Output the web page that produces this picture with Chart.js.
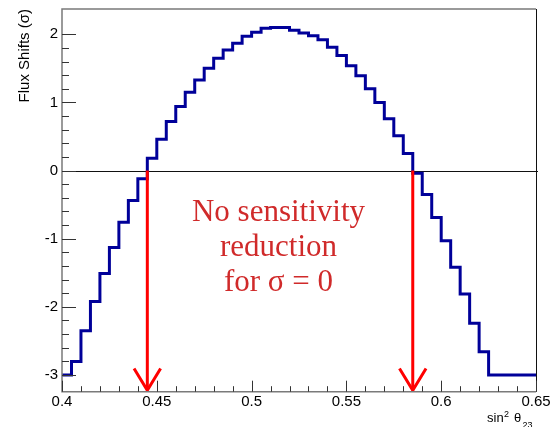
<!DOCTYPE html>
<html>
<head>
<meta charset="utf-8">
<script src="https://cdn.jsdelivr.net/npm/chart.js@4.4.1/dist/chart.umd.min.js"></script>
<style>
  html, body { margin: 0; padding: 0; background: #fff; }
  canvas { display: block; }
</style>
</head>
<body>
<canvas id="fluxChart" width="552" height="427"></canvas>
<script>
// histogram: 50 bins of width 0.005 starting at sin^2 theta23 = 0.4
const binStart = 0.4;
const binWidth = 0.005;
const fluxShift = [
  -3.00, -2.80, -2.35, -1.92, -1.51, -1.13, -0.76, -0.44, -0.12, 0.18,
   0.46,  0.72,  0.94,  1.15,  1.33,  1.50,  1.65,  1.77,  1.87, 1.97,
   2.03,  2.09,  2.10,  2.10,  2.06,  2.02,  1.98,  1.92,  1.81, 1.69,
   1.54,  1.39,  1.20,  1.00,  0.76,  0.51,  0.25, -0.04, -0.35, -0.69,
  -1.03, -1.42, -1.81, -2.24, -2.66, -3.00, -3.00, -3.00, -3.00, -3.00
];

// red arrows where the shift crosses zero
const arrowX = [0.445, 0.585];
const arrowTop = 0;
const arrowTip = -3.225;

const noteLines = ['No sensitivity', 'reduction', 'for σ = 0'];

// axis ranges and tick labels
const xRange = [0.4, 0.65];
const yRange = [-3.245, 2.371];
const xMajor = [0.4, 0.45, 0.5, 0.55, 0.6, 0.65];
const yMajor = [-3, -2, -1, 0, 1, 2];

const near = (v, step) => Math.abs(v / step - Math.round(v / step)) < 1e-6;

// step line points: lower edge of every bin, plus the last upper edge
const histPoints = fluxShift.map((v, i) => ({ x: binStart + i * binWidth, y: v }));
histPoints.push({ x: binStart + fluxShift.length * binWidth, y: fluxShift[fluxShift.length - 1] });

const arrowSets = [];
arrowX.forEach(ax => {
  arrowSets.push({
    data: [{ x: ax, y: arrowTop }, { x: ax, y: arrowTip }],
    borderColor: '#ff0000', borderWidth: 3, pointRadius: 0, order: 0
  });
  arrowSets.push({
    data: [{ x: ax - 0.007, y: arrowTip + 0.32 }, { x: ax, y: arrowTip }, { x: ax + 0.007, y: arrowTip + 0.32 }],
    borderColor: '#ff0000', borderWidth: 3, pointRadius: 0, order: 0
  });
});

const sansFont = '"Liberation Sans", Arial, sans-serif';

const rootStyle = {
  id: 'rootStyle',
  beforeDatasetsDraw(chart) {
    const { ctx, chartArea: a, scales: { y } } = chart;
    const y0 = Math.round(y.getPixelForValue(0)) + 0.5;
    ctx.save();
    ctx.strokeStyle = '#111';
    ctx.lineWidth = 1;
    ctx.beginPath();
    ctx.moveTo(a.left, y0);
    ctx.lineTo(a.right + 2, y0);
    ctx.stroke();
    ctx.restore();
  },
  afterDatasetsDraw(chart) {
    const { ctx, chartArea: a, scales: { x, y } } = chart;
    ctx.save();
    // frame
    ctx.strokeStyle = '#7a7a7a';
    ctx.lineWidth = 1.5;
    ctx.beginPath();
    ctx.moveTo(a.right, a.top);
    ctx.lineTo(a.left, a.top);
    ctx.lineTo(a.left, a.bottom);
    ctx.lineTo(a.right, a.bottom);
    ctx.stroke();
    ctx.strokeStyle = '#111';
    ctx.lineWidth = 1;
    ctx.beginPath();
    ctx.moveTo(a.right + 0.5, a.top);
    ctx.lineTo(a.right + 0.5, a.bottom);
    ctx.stroke();

    // inward ticks
    ctx.strokeStyle = '#333';
    ctx.lineWidth = 1;
    ctx.beginPath();
    x.ticks.forEach(t => {
      if (!near(t.value, 0.01)) return;
      const px = Math.round(x.getPixelForValue(t.value)) + 0.5;
      const len = near(t.value, 0.05) ? 11 : 5.5;
      ctx.moveTo(px, a.bottom);
      ctx.lineTo(px, a.bottom - len);
    });
    y.ticks.forEach(t => {
      if (!near(t.value, 0.2)) return;
      const py = Math.round(y.getPixelForValue(t.value)) + 0.5;
      const len = near(t.value, 1) ? 14 : 7;
      ctx.moveTo(a.left, py);
      ctx.lineTo(a.left + len, py);
    });
    ctx.stroke();

    // x axis title, ROOT style with super/subscript
    ctx.fillStyle = '#000';
    ctx.textAlign = 'left';
    ctx.textBaseline = 'alphabetic';
    const tx = a.right - 49, ty = a.bottom + 30.5;
    ctx.font = '13px ' + sansFont;
    ctx.fillText('sin', tx, ty);
    ctx.fillText('θ', tx + 27, ty);
    ctx.font = '9px ' + sansFont;
    ctx.fillText('2', tx + 17, ty - 5);
    ctx.fillText('23', tx + 35.5, ty + 6);

    // note text
    ctx.fillStyle = '#d02a2a';
    ctx.font = '31px "Liberation Serif", "Times New Roman", serif';
    ctx.textAlign = 'center';
    const noteX = x.getPixelForValue(0.5142);
    const noteY = [-0.74, -1.255, -1.77];
    noteLines.forEach((line, i) => ctx.fillText(line, noteX, y.getPixelForValue(noteY[i])));
    ctx.restore();
  }
};

new Chart(document.getElementById('fluxChart'), {
  type: 'line',
  data: {
    datasets: [
      ...arrowSets,
      {
        data: histPoints,
        stepped: true,
        borderColor: '#000099',
        borderWidth: 3,
        pointRadius: 0,
        order: 1
      }
    ]
  },
  options: {
    responsive: false,
    animation: false,
    devicePixelRatio: 1,
    layout: { padding: { top: 9, right: 16, left: 0, bottom: 0 } },
    plugins: { legend: { display: false }, tooltip: { enabled: false } },
    scales: {
      x: {
        type: 'linear',
        min: xRange[0],
        max: xRange[1],
        afterFit: s => { s.height = 35.3; s.paddingLeft = 0; s.paddingRight = 0; },
        border: { display: false },
        grid: { display: false, drawTicks: false },
        ticks: {
          stepSize: 0.01,
          autoSkip: false,
          maxRotation: 0,
          padding: 1,
          color: '#000',
          font: { family: sansFont, size: 15 },
          callback: v => xMajor.some(m => Math.abs(m - v) < 1e-6) ? String(parseFloat(v.toFixed(2))) : ''
        }
      },
      y: {
        min: yRange[0],
        max: yRange[1],
        afterFit: s => { s.width = 62; s.paddingTop = 0; s.paddingBottom = 0; },
        border: { display: false },
        grid: { display: false, drawTicks: false },
        ticks: {
          stepSize: 0.2,
          autoSkip: false,
          padding: 4,
          color: '#000',
          font: { family: sansFont, size: 15 },
          callback: v => yMajor.some(m => Math.abs(m - v) < 1e-6) ? String(Math.round(v)) : ''
        },
        title: {
          display: true,
          text: 'Flux Shifts (σ)',
          align: 'end',
          color: '#000',
          padding: { top: 16, bottom: 0 },
          font: { family: sansFont, size: 15 }
        }
      }
    }
  },
  plugins: [rootStyle]
});
</script>
</body>
</html>
